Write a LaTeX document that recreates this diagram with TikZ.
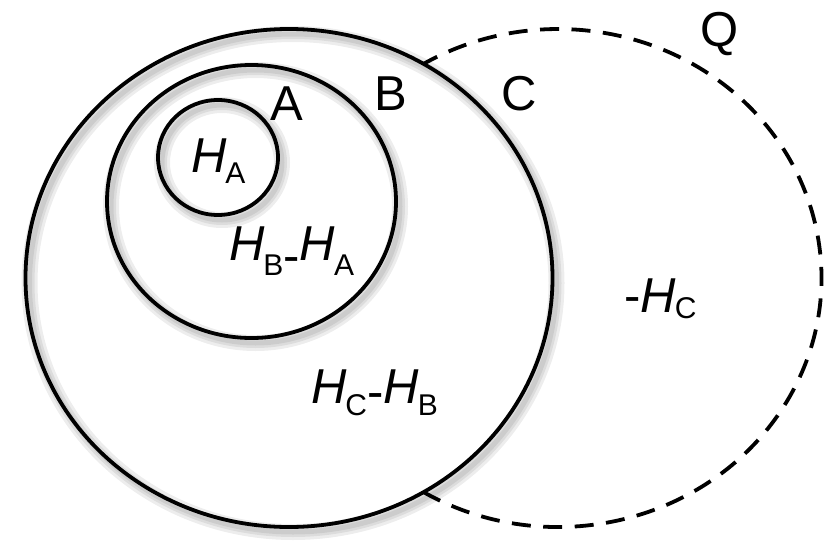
\documentclass[tikz,border=0pt]{standalone}
\usepackage{fontspec}
\setmainfont{Liberation Sans}
\usetikzlibrary{shapes.geometric,calc}
\newcommand{\Hs}[2]{\textit{H}\kern-1pt\raisebox{-#2pt}{\fontsize{30}{30}\selectfont #1}}
\newcommand{\hy}[1]{\raisebox{-#1pt}{-}}
\begin{document}
\begin{tikzpicture}[x=1pt,y=-1pt,
  ring/.style={ellipse, draw, line width=3.8pt, inner sep=0pt, outer sep=0pt},
  shadowline/.style={draw=black, opacity=0.07, line width=#1},
  lab/.style={font=\fontsize{49}{55}\selectfont, inner sep=0pt, outer sep=0pt},
  qline/.style={line width=3.8pt, dash pattern=on 19pt off 12.5pt}]
\useasboundingbox (0,0) rectangle (828,557);
% soft shadows
\foreach \w in {16,10,5}{
  \draw[shadowline=\w pt] (293,283) ellipse [x radius=263.5, y radius=249];
  \draw[shadowline=\w pt] (255.5,206.5) ellipse [x radius=144.5, y radius=136.5];
  \draw[shadowline=\w pt] (222,162.5) ellipse [x radius=60, y radius=57.5];
}
% ellipses
\node[ring, minimum width=527pt, minimum height=498pt] (C) at (289,278) {};
\node[ring, minimum width=289pt, minimum height=273pt] (B) at (251.5,201.5) {};
\node[ring, minimum width=120pt, minimum height=115pt] (A) at (218,157.5) {};
% dashed Q
\coordinate (qc) at (558,278);
\draw[qline] (qc) ++(120.76:263.5 and 249) arc[start angle=120.76, end angle=-120.76, x radius=263.5, y radius=249];
% labels
\node[lab, anchor=base] (lA) at (287,120) {A};
\node[lab, anchor=base] (lB) at (391,110) {B};
\node[lab, anchor=base] (lC) at (519,110) {C};
\node[lab, anchor=base] (lQ) at (720,46) {Q};
\node[lab, anchor=base west] (hA) at (191,172) {\Hs{A}{11}};
\node[lab, anchor=base west] (hBA) at (229,260) {\Hs{B}{15}\hy{12}\Hs{A}{15}};
\node[lab, anchor=base west] (hCB) at (311,403) {\Hs{C}{12}\hy{5}\Hs{B}{12}};
\node[lab, anchor=base west] (hC) at (624,312) {-\Hs{C}{6}};
\end{tikzpicture}
\end{document}
